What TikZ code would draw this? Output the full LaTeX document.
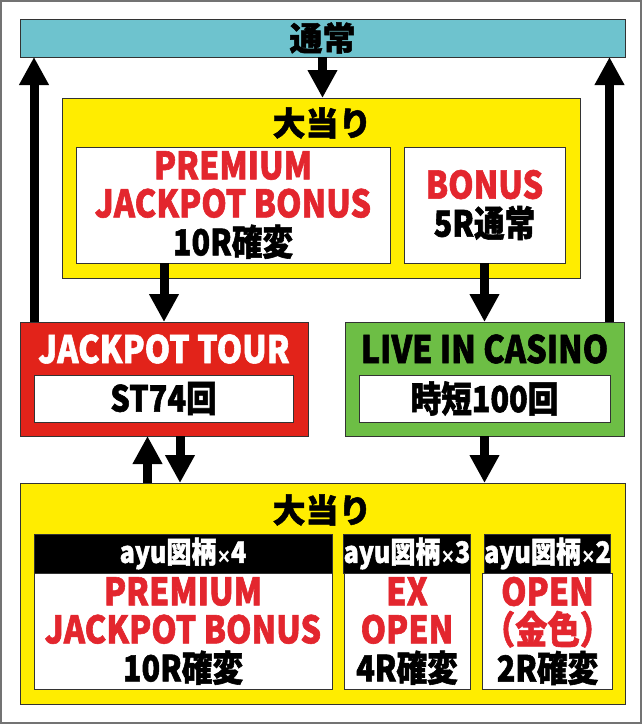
\documentclass[tikz,border=0pt]{standalone}
\usepackage{fontspec}
\setmainfont{Noto Sans CJK JP}[FakeStretch=0.85, BoldFeatures={FakeBold=1.5}]
\newfontfamily\sqfont{Noto Sans CJK JP}[BoldFeatures={FakeBold=1.5}]
\usetikzlibrary{arrows.meta}
\definecolor{barblue}{HTML}{6EC3CE}
\definecolor{hityellow}{HTML}{FFED00}
\definecolor{tourred}{HTML}{E2231A}
\definecolor{casinogreen}{HTML}{6DBE45}
\definecolor{txtred}{HTML}{E3262E}
\tikzset{
	box/.style={draw=black!80, line width=1, rectangle, inner sep=0, outer sep=0},
	flow/.style={line width=9, -{Triangle[width=28, length=28]}},
	bigtxt/.style={font=\bfseries\fontsize{38}{38}\selectfont, align=center},
	subtxt/.style={font=\bfseries\fontsize{36}{38}\selectfont},
	titletxt/.style={font=\sqfont\bfseries\fontsize{33}{34}\selectfont},
	headtxt/.style={font=\bfseries\fontsize{29.5}{31}\selectfont, text=white},
}
\newcommand\rd[1]{\textcolor{txtred}{#1}}
\newcommand\sub[1]{{\fontsize{36}{38}\selectfont #1}}
\newcommand\kake{{\fontsize{17}{17}\selectfont ×}}

\begin{document}
\begin{tikzpicture}[x=1pt, y=-1pt]
	%%%%% START %%%%%
	\useasboundingbox (0,0) rectangle (642,724);
	\draw[black!55, line width=2] (1,1) rectangle (641,723);
	
	\node[box, fill=barblue, minimum width=605, minimum height=38, titletxt] (normal) at (322.5,38) {通常};
	
	% upper hit
	\node[box, fill=hityellow, minimum width=518, minimum height=180] (hitA) at (321,188) {};
	\node[titletxt] (hitAtitle) at (322,123) {大当り};
	\node[box, fill=white, minimum width=314, minimum height=116, bigtxt] (hitApjb) at (233,205) {\rd{PREMIUM}\\\rd{JACKPOT BONUS}\\\sub{10R確変}};
	\node[box, fill=white, minimum width=161, minimum height=116, bigtxt] (hitAbonus) at (484.5,205) {\rd{BONUS}\\\sub{5R通常}};
	
	% modes
	\node[box, fill=tourred, minimum width=288, minimum height=114] (jt) at (164,379) {};
	\node[bigtxt, text=white] (jttitle) at (164,349) {JACKPOT TOUR};
	\node[box, fill=white, minimum width=259, minimum height=47, subtxt] (jtst) at (163.5,398.5) {ST74回};
	
	\node[box, fill=casinogreen, minimum width=279, minimum height=114] (casino) at (484.5,379) {};
	\node[bigtxt] (casinotitle) at (484.5,349) {LIVE IN CASINO};
	\node[box, fill=white, minimum width=251, minimum height=47, subtxt] (casinojt) at (484.5,398.5) {時短100回};
	
	% lower hit
	\node[box, fill=hityellow, minimum width=605, minimum height=221] (hitB) at (322.5,593.5) {};
	\node[titletxt] (hitBtitle) at (322,510) {大当り};
	
	\node[box, fill=black, minimum width=298, minimum height=39, headtxt] (headA) at (183,553.5) {ayu図柄\kake4};
	\node[box, fill=white, minimum width=298, minimum height=116, bigtxt] (bodyA) at (183,631) {\rd{PREMIUM}\\\rd{JACKPOT BONUS}\\\sub{10R確変}};
	\node[box, fill=black, minimum width=126, minimum height=39, headtxt] (headB) at (407,553.5) {ayu図柄\kake3};
	\node[box, fill=white, minimum width=126, minimum height=116, bigtxt] (bodyB) at (407,631) {\rd{EX}\\\rd{OPEN}\\\sub{4R確変}};
	\node[box, fill=black, minimum width=126, minimum height=39, headtxt] (headC) at (547.5,553.5) {ayu図柄\kake2};
	\node[box, fill=white, minimum width=126, minimum height=116, bigtxt] (bodyC) at (547.5,631) {\rd{OPEN}\\\rd{（金色）}\\\sub{2R確変}};
	
	% arrows
	\coordinate (jtback) at ([xshift=14]jt.north west);
	\coordinate (casinoback) at ([xshift=-14.5]casino.north east);
	\coordinate (jtup) at ([xshift=-16.5]jt.south);
	\coordinate (jtdown) at ([xshift=16]jt.south);
	
	\draw[flow] (normal.south) -- (normal.south |- hitA.north);
	\draw[flow] (hitApjb.south -| jt.north) -- (jt.north);
	\draw[flow] (hitAbonus.south) -- (casino.north);
	\draw[flow] (jtback) -- (jtback |- normal.south);
	\draw[flow] (casinoback) -- (casinoback |- normal.south);
	\draw[flow] (jtup |- hitB.north) -- (jtup);
	\draw[flow] (jtdown) -- (jtdown |- hitB.north);
	\draw[flow] (casino.south) -- (casino.south |- hitB.north);
	
	%%%%% END %%%%%
\end{tikzpicture}
\end{document}
